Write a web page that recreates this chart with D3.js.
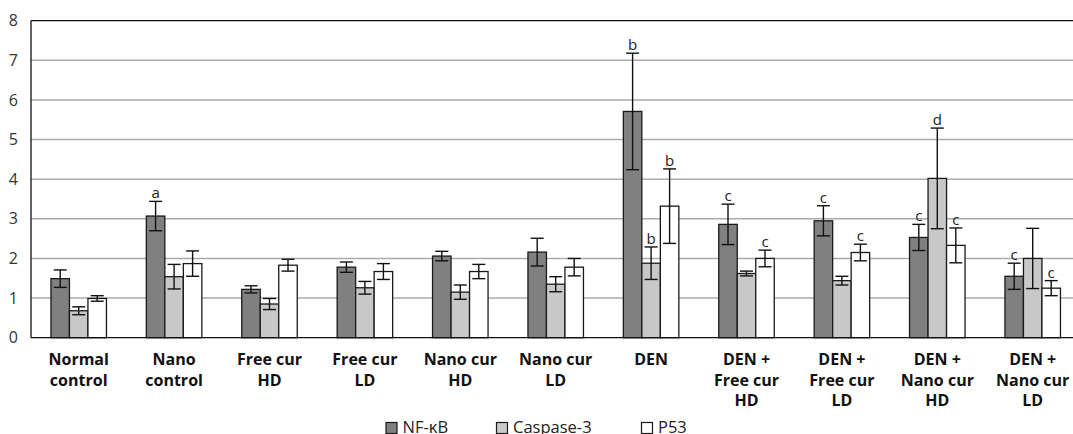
<!DOCTYPE html>
<html>
<head>
<meta charset="utf-8">
<script src="https://cdn.jsdelivr.net/npm/d3@7"></script>
<style>
  html, body { margin: 0; padding: 0; background: #fff; }
  svg { display: block; }
  text { font-family: "Open Sans", "Noto Sans", sans-serif; }
</style>
</head>
<body>
<svg id="chart" width="1073" height="434"></svg>
<script>
// Groups (each label split over lines)
const categories = [
  ["Normal", "control"],
  ["Nano", "control"],
  ["Free cur", "HD"],
  ["Free cur", "LD"],
  ["Nano cur", "HD"],
  ["Nano cur", "LD"],
  ["DEN"],
  ["DEN +", "Free cur", "HD"],
  ["DEN +", "Free cur", "LD"],
  ["DEN +", "Nano cur", "HD"],
  ["DEN +", "Nano cur", "LD"]
];

const seriesNames = ["NF-κB", "Caspase-3", "P53"];

// Means
const nfkb    = [1.49, 3.07, 1.22, 1.78, 2.06, 2.16, 5.71, 2.86, 2.95, 2.53, 1.55];
const caspase = [0.68, 1.54, 0.85, 1.26, 1.15, 1.35, 1.88, 1.62, 1.44, 4.02, 2.00];
const p53     = [0.99, 1.87, 1.83, 1.67, 1.67, 1.78, 3.32, 2.00, 2.15, 2.33, 1.25];

// Error (± half-range)
const nfkbErr    = [0.22, 0.37, 0.09, 0.13, 0.12, 0.35, 1.47, 0.51, 0.38, 0.33, 0.33];
const caspaseErr = [0.10, 0.31, 0.14, 0.16, 0.18, 0.19, 0.41, 0.06, 0.11, 1.27, 0.76];
const p53Err     = [0.07, 0.32, 0.15, 0.20, 0.18, 0.22, 0.94, 0.21, 0.21, 0.44, 0.19];

// Significance letters
const nfkbSig    = ["", "a", "", "", "", "", "b", "c", "c", "c", "c"];
const caspaseSig = ["", "", "", "", "", "", "b", "", "", "d", ""];
const p53Sig     = ["", "", "", "", "", "", "b", "c", "c", "c", "c"];

const yTicks = [0, 1, 2, 3, 4, 5, 6, 7, 8];

const seriesColors = ["#808080", "#c8c8c8", "#ffffff"];

const seriesData = [
  { name: seriesNames[0], values: nfkb, errs: nfkbErr, sig: nfkbSig },
  { name: seriesNames[1], values: caspase, errs: caspaseErr, sig: caspaseSig },
  { name: seriesNames[2], values: p53, errs: p53Err, sig: p53Sig }
];

const svg = d3.select("#chart");

const left = 31, plotTop = 20.7, plotBottom = 337.7, plotRight = 1080.4;
const groupKeys = categories.map((c, i) => i);

const x = d3.scaleBand().domain(groupKeys).range([left, plotRight]).padding(0);
const barW = 18.5;
const sub = d3.scaleBand().domain(seriesNames).range([0, barW * 3]);
const y = d3.scaleLinear().domain([0, 8]).range([plotBottom, plotTop]);

const barX = (gi, s) => x(gi) + (x.bandwidth() - barW * 3) / 2 + sub(s);

// Gridlines
svg.append("g")
  .selectAll("line")
  .data(yTicks.filter(t => t > 0 && t < 8))
  .join("line")
  .attr("x1", left).attr("x2", 1073)
  .attr("y1", d => y(d)).attr("y2", d => y(d))
  .attr("stroke", "#ababab")
  .attr("stroke-width", 1.5);

// Top border
svg.append("line")
  .attr("x1", left).attr("x2", 1073)
  .attr("y1", y(8)).attr("y2", y(8))
  .attr("stroke", "#111").attr("stroke-width", 1.3);

// Y axis labels
const yAxis = d3.axisLeft(y).tickValues(yTicks).tickSize(0).tickPadding(13);
const yg = svg.append("g").attr("transform", `translate(${left},0)`).call(yAxis);
yg.select(".domain").remove();
yg.selectAll("text")
  .attr("font-size", 16)
  .attr("fill", "#333")
  .style("font-family", "'Open Sans', 'Noto Sans', sans-serif");

// Bars
const groups = svg.append("g");
seriesData.forEach((s, si) => {
  groups.append("g")
    .selectAll("rect")
    .data(s.values)
    .join("rect")
    .attr("x", (d, i) => barX(i, s.name))
    .attr("y", d => y(d))
    .attr("width", barW)
    .attr("height", d => y(0) - y(d))
    .attr("fill", seriesColors[si])
    .attr("stroke", "#1a1a1a")
    .attr("stroke-width", 1.3);
});

// Error bars and letters
const capW = 13;
seriesData.forEach((s) => {
  const g = svg.append("g").attr("stroke", "#111").attr("stroke-width", 1.4);
  s.values.forEach((v, i) => {
    const cx = barX(i, s.name) + barW / 2;
    const hi = y(v + s.errs[i]), lo = y(v - s.errs[i]);
    g.append("line").attr("x1", cx).attr("x2", cx).attr("y1", hi).attr("y2", lo);
    g.append("line").attr("x1", cx - capW / 2).attr("x2", cx + capW / 2).attr("y1", hi).attr("y2", hi);
    g.append("line").attr("x1", cx - capW / 2).attr("x2", cx + capW / 2).attr("y1", lo).attr("y2", lo);
    if (s.sig[i]) {
      svg.append("text")
        .attr("x", cx).attr("y", hi - 3)
        .attr("text-anchor", "middle")
        .attr("font-size", 15)
        .attr("fill", "#222")
        .text(s.sig[i]);
    }
  });
});

// Axes lines
svg.append("line")
  .attr("x1", left).attr("x2", left)
  .attr("y1", y(8)).attr("y2", y(0))
  .attr("stroke", "#111").attr("stroke-width", 1.3);
svg.append("line")
  .attr("x1", left).attr("x2", 1073)
  .attr("y1", y(0)).attr("y2", y(0))
  .attr("stroke", "#111").attr("stroke-width", 1.3);

// Category labels
const cat = svg.append("g");
categories.forEach((lines, i) => {
  const t = cat.append("text")
    .attr("x", x(i) + x.bandwidth() / 2)
    .attr("y", 365)
    .attr("text-anchor", "middle")
    .attr("font-size", 16)
    .attr("font-weight", "bold")
    .attr("fill", "#111");
  lines.forEach((ln, k) => {
    t.append("tspan")
      .attr("x", x(i) + x.bandwidth() / 2)
      .attr("dy", k === 0 ? 0 : 20.5)
      .text(ln);
  });
});

// Legend
const legendX = [386, 496.5, 641.5];
const lg = svg.append("g");
seriesNames.forEach((n, i) => {
  lg.append("rect")
    .attr("x", legendX[i]).attr("y", 422.5)
    .attr("width", 11).attr("height", 11)
    .attr("fill", seriesColors[i])
    .attr("stroke", "#1a1a1a").attr("stroke-width", 1.2);
  lg.append("text")
    .attr("x", legendX[i] + 16.5).attr("y", 433.3)
    .attr("font-size", 16.5)
    .attr("fill", "#222")
    .text(n);
});
</script>
</body>
</html>
